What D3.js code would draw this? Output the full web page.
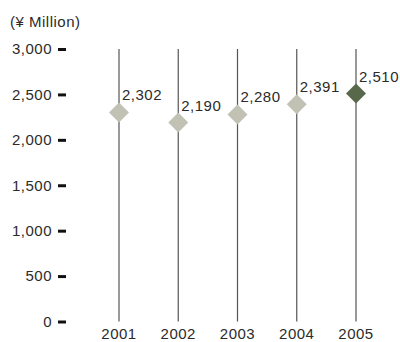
<!DOCTYPE html>
<html>
<head>
<meta charset="utf-8">
<script src="https://cdn.jsdelivr.net/npm/d3@7/dist/d3.min.js"></script>
<style>
  html, body { margin: 0; padding: 0; background: #fff; }
  svg { display: block; }
  text { font-family: "Liberation Sans", Arial, sans-serif; fill: #2b2b2b; }
</style>
</head>
<body>
<svg id="chart" width="400" height="342"></svg>
<script>
// Annual figures, ¥ million
const years = ["2001", "2002", "2003", "2004", "2005"];
const values = [2302, 2190, 2280, 2391, 2510];
const yTicks = [0, 500, 1000, 1500, 2000, 2500, 3000];
const unitLabel = "(¥ Million)";

const FS = 15, LS = 0.5;
const svg = d3.select("#chart");

const x = d3.scalePoint().domain(years).range([119, 356]);
const y = d3.scaleLinear().domain([0, 3000]).range([321.5, 49]);

// Unit caption
svg.append("text")
  .attr("x", 10).attr("y", 27)
  .attr("font-size", FS).attr("letter-spacing", LS)
  .text(unitLabel);

// Y axis: short heavy ticks, no domain line
const yAxis = svg.append("g")
  .attr("transform", "translate(66,0)")
  .call(d3.axisLeft(y).tickValues(yTicks).tickSize(8).tickPadding(6).tickFormat(d3.format(",")));
yAxis.select(".domain").remove();
yAxis.selectAll(".tick line").attr("stroke", "#111").attr("stroke-width", 3);
yAxis.selectAll(".tick text")
  .attr("font-size", FS).attr("letter-spacing", LS)
  .attr("font-family", "Liberation Sans, Arial, sans-serif")
  .attr("fill", "#2b2b2b");

// Vertical year rules
svg.append("g").selectAll("line")
  .data(years).join("line")
  .attr("x1", d => x(d)).attr("x2", d => x(d))
  .attr("y1", y(3000)).attr("y2", y(0))
  .attr("stroke", "#555").attr("stroke-width", 1.2);

// Year labels
svg.append("g").selectAll("text")
  .data(years).join("text")
  .attr("x", d => x(d)).attr("y", 339)
  .attr("text-anchor", "middle")
  .attr("font-size", FS).attr("letter-spacing", LS)
  .text(d => d);

// Diamonds
const data = years.map((yr, i) => ({ year: yr, value: values[i], last: i === years.length - 1 }));
const half = 10;
svg.append("g").selectAll("path")
  .data(data).join("path")
  .attr("transform", d => `translate(${x(d.year)},${y(d.value)})`)
  .attr("d", `M0,${-half}L${half},0L0,${half}L${-half},0Z`)
  .attr("fill", d => d.last ? "#57694a" : "#c2c2b4");

// Value labels
svg.append("g").selectAll("text")
  .data(data).join("text")
  .attr("x", d => x(d.year) + 3)
  .attr("y", d => y(d.value) - 12)
  .attr("font-size", FS).attr("letter-spacing", LS)
  .text(d => d3.format(",")(d.value));
</script>
</body>
</html>
